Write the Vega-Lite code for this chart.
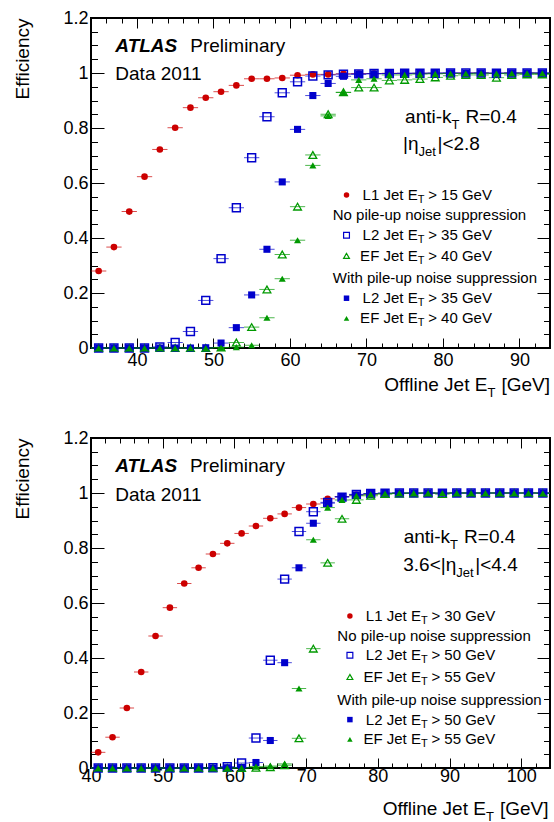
{
"$schema": "https://vega.github.io/schema/vega-lite/v6.json",
"padding": {"left": 12, "top": 8, "right": 5, "bottom": 0},
"background": "white",
"spacing": 27,
"config": {
  "view": {"stroke": "black", "strokeWidth": 2},
  "font": "Liberation Sans",
  "axis": {"grid": false, "domain": false, "tickColor": "black", "tickWidth": 1, "labelColor": "black", "labelFont": "Liberation Sans", "labelFontSize": 18, "titleFont": "Liberation Sans", "titleFontWeight": "normal", "titleColor": "black", "titleFontSize": 19, "labelFlush": false, "labelOverlap": false}
},
"datasets": {
  "top": [
    {"s":"L1","x":35,"y":0.28},{"s":"L1","x":37,"y":0.367},{"s":"L1","x":39,"y":0.496},{"s":"L1","x":41,"y":0.623},{"s":"L1","x":43,"y":0.722},{"s":"L1","x":45,"y":0.801},{"s":"L1","x":47,"y":0.874},{"s":"L1","x":49,"y":0.91},{"s":"L1","x":51,"y":0.932},{"s":"L1","x":53,"y":0.955},{"s":"L1","x":55,"y":0.979},{"s":"L1","x":57,"y":0.979},{"s":"L1","x":59,"y":0.982},{"s":"L1","x":61,"y":0.992},{"s":"L1","x":63,"y":0.995},{"s":"L1","x":65,"y":0.995},{"s":"L1","x":67,"y":0.997},{"s":"L1","x":69,"y":0.998},{"s":"L1","x":71,"y":0.998},{"s":"L1","x":73,"y":0.999},{"s":"L1","x":75,"y":0.998},{"s":"L1","x":77,"y":0.999},{"s":"L1","x":79,"y":0.999},{"s":"L1","x":81,"y":0.999},{"s":"L1","x":83,"y":1},{"s":"L1","x":85,"y":1},{"s":"L1","x":87,"y":0.999},{"s":"L1","x":89,"y":1},{"s":"L1","x":91,"y":1},{"s":"L1","x":93,"y":0.999},
    {"s":"L2n","x":35,"y":0},{"s":"L2n","x":37,"y":0},{"s":"L2n","x":39,"y":0},{"s":"L2n","x":41,"y":0},{"s":"L2n","x":43,"y":0.004},{"s":"L2n","x":45,"y":0.02},{"s":"L2n","x":47,"y":0.06},{"s":"L2n","x":49,"y":0.173},{"s":"L2n","x":51,"y":0.325},{"s":"L2n","x":53,"y":0.51},{"s":"L2n","x":55,"y":0.692},{"s":"L2n","x":57,"y":0.841},{"s":"L2n","x":59,"y":0.928},{"s":"L2n","x":61,"y":0.968},{"s":"L2n","x":63,"y":0.989},{"s":"L2n","x":65,"y":0.993},{"s":"L2n","x":67,"y":0.996},{"s":"L2n","x":69,"y":0.997},{"s":"L2n","x":71,"y":0.998},{"s":"L2n","x":73,"y":0.998},{"s":"L2n","x":75,"y":0.999},{"s":"L2n","x":77,"y":0.999},{"s":"L2n","x":79,"y":0.999},{"s":"L2n","x":81,"y":1},{"s":"L2n","x":83,"y":1},{"s":"L2n","x":85,"y":1},{"s":"L2n","x":87,"y":0.999},{"s":"L2n","x":89,"y":1},{"s":"L2n","x":91,"y":1},{"s":"L2n","x":93,"y":1},
    {"s":"EFn","x":35,"y":0},{"s":"EFn","x":37,"y":0},{"s":"EFn","x":39,"y":0},{"s":"EFn","x":41,"y":0},{"s":"EFn","x":43,"y":0},{"s":"EFn","x":45,"y":0},{"s":"EFn","x":47,"y":0},{"s":"EFn","x":49,"y":0},{"s":"EFn","x":51,"y":0.002},{"s":"EFn","x":53,"y":0.02},{"s":"EFn","x":55,"y":0.076},{"s":"EFn","x":57,"y":0.213},{"s":"EFn","x":59,"y":0.34},{"s":"EFn","x":61,"y":0.514},{"s":"EFn","x":63,"y":0.702},{"s":"EFn","x":65,"y":0.85},{"s":"EFn","x":67,"y":0.93},{"s":"EFn","x":69,"y":0.947},{"s":"EFn","x":71,"y":0.947},{"s":"EFn","x":73,"y":0.973},{"s":"EFn","x":75,"y":0.975},{"s":"EFn","x":77,"y":0.978},{"s":"EFn","x":79,"y":0.984},{"s":"EFn","x":81,"y":0.99},{"s":"EFn","x":83,"y":0.993},{"s":"EFn","x":85,"y":0.993},{"s":"EFn","x":87,"y":0.983},{"s":"EFn","x":89,"y":0.993},{"s":"EFn","x":91,"y":0.995},{"s":"EFn","x":93,"y":0.995},
    {"s":"L2p","x":35,"y":0},{"s":"L2p","x":37,"y":0},{"s":"L2p","x":39,"y":0},{"s":"L2p","x":41,"y":0},{"s":"L2p","x":43,"y":0},{"s":"L2p","x":45,"y":0},{"s":"L2p","x":47,"y":0},{"s":"L2p","x":49,"y":0.001},{"s":"L2p","x":51,"y":0.018},{"s":"L2p","x":53,"y":0.074},{"s":"L2p","x":55,"y":0.193},{"s":"L2p","x":57,"y":0.359},{"s":"L2p","x":59,"y":0.604},{"s":"L2p","x":61,"y":0.795},{"s":"L2p","x":63,"y":0.918},{"s":"L2p","x":65,"y":0.962},{"s":"L2p","x":67,"y":0.988},{"s":"L2p","x":69,"y":0.995},{"s":"L2p","x":71,"y":0.997},{"s":"L2p","x":73,"y":0.998},{"s":"L2p","x":75,"y":0.999},{"s":"L2p","x":77,"y":0.999},{"s":"L2p","x":79,"y":1},{"s":"L2p","x":81,"y":1},{"s":"L2p","x":83,"y":0.999},{"s":"L2p","x":85,"y":1},{"s":"L2p","x":87,"y":1},{"s":"L2p","x":89,"y":1},{"s":"L2p","x":91,"y":1},{"s":"L2p","x":93,"y":1},
    {"s":"EFp","x":35,"y":0},{"s":"EFp","x":37,"y":0},{"s":"EFp","x":39,"y":0},{"s":"EFp","x":41,"y":0},{"s":"EFp","x":43,"y":0},{"s":"EFp","x":45,"y":0},{"s":"EFp","x":47,"y":0},{"s":"EFp","x":49,"y":0},{"s":"EFp","x":51,"y":0.001},{"s":"EFp","x":53,"y":0.003},{"s":"EFp","x":55,"y":0.01},{"s":"EFp","x":57,"y":0.11},{"s":"EFp","x":59,"y":0.252},{"s":"EFp","x":61,"y":0.392},{"s":"EFp","x":63,"y":0.664},{"s":"EFp","x":65,"y":0.844},{"s":"EFp","x":67,"y":0.929},{"s":"EFp","x":69,"y":0.975},{"s":"EFp","x":71,"y":0.979},{"s":"EFp","x":73,"y":0.993},{"s":"EFp","x":75,"y":0.993},{"s":"EFp","x":77,"y":0.996},{"s":"EFp","x":79,"y":0.997},{"s":"EFp","x":81,"y":0.998},{"s":"EFp","x":83,"y":0.998},{"s":"EFp","x":85,"y":0.999},{"s":"EFp","x":87,"y":0.998},{"s":"EFp","x":89,"y":0.999},{"s":"EFp","x":91,"y":0.999},{"s":"EFp","x":93,"y":0.999}
  ],
  "bot": [
    {"s":"L1","x":41,"y":0.057},{"s":"L1","x":43,"y":0.112},{"s":"L1","x":45,"y":0.218},{"s":"L1","x":47,"y":0.349},{"s":"L1","x":49,"y":0.48},{"s":"L1","x":51,"y":0.583},{"s":"L1","x":53,"y":0.671},{"s":"L1","x":55,"y":0.728},{"s":"L1","x":57,"y":0.778},{"s":"L1","x":59,"y":0.817},{"s":"L1","x":61,"y":0.853},{"s":"L1","x":63,"y":0.88},{"s":"L1","x":65,"y":0.908},{"s":"L1","x":67,"y":0.924},{"s":"L1","x":69,"y":0.947},{"s":"L1","x":71,"y":0.96},{"s":"L1","x":73,"y":0.979},{"s":"L1","x":75,"y":0.987},{"s":"L1","x":77,"y":0.993},{"s":"L1","x":79,"y":0.996},{"s":"L1","x":81,"y":0.998},{"s":"L1","x":83,"y":0.999},{"s":"L1","x":85,"y":0.999},{"s":"L1","x":87,"y":0.999},{"s":"L1","x":89,"y":0.999},{"s":"L1","x":91,"y":1},{"s":"L1","x":93,"y":1},{"s":"L1","x":95,"y":1},{"s":"L1","x":97,"y":1},{"s":"L1","x":99,"y":1},{"s":"L1","x":101,"y":1},{"s":"L1","x":103,"y":1},
    {"s":"L2n","x":41,"y":0},{"s":"L2n","x":43,"y":0},{"s":"L2n","x":45,"y":0},{"s":"L2n","x":47,"y":0},{"s":"L2n","x":49,"y":0},{"s":"L2n","x":51,"y":0},{"s":"L2n","x":53,"y":0},{"s":"L2n","x":55,"y":0},{"s":"L2n","x":57,"y":0.001},{"s":"L2n","x":59,"y":0.005},{"s":"L2n","x":61,"y":0.018},{"s":"L2n","x":63,"y":0.109},{"s":"L2n","x":65,"y":0.392},{"s":"L2n","x":67,"y":0.687},{"s":"L2n","x":69,"y":0.86},{"s":"L2n","x":71,"y":0.932},{"s":"L2n","x":73,"y":0.966},{"s":"L2n","x":75,"y":0.985},{"s":"L2n","x":77,"y":0.995},{"s":"L2n","x":79,"y":0.998},{"s":"L2n","x":81,"y":0.999},{"s":"L2n","x":83,"y":1},{"s":"L2n","x":85,"y":1},{"s":"L2n","x":87,"y":1},{"s":"L2n","x":89,"y":0.999},{"s":"L2n","x":91,"y":1},{"s":"L2n","x":93,"y":1},{"s":"L2n","x":95,"y":1},{"s":"L2n","x":97,"y":1},{"s":"L2n","x":99,"y":1},{"s":"L2n","x":101,"y":1},{"s":"L2n","x":103,"y":1},
    {"s":"EFn","x":41,"y":0},{"s":"EFn","x":43,"y":0},{"s":"EFn","x":45,"y":0},{"s":"EFn","x":47,"y":0},{"s":"EFn","x":49,"y":0},{"s":"EFn","x":51,"y":0},{"s":"EFn","x":53,"y":0},{"s":"EFn","x":55,"y":0},{"s":"EFn","x":57,"y":0},{"s":"EFn","x":59,"y":0},{"s":"EFn","x":61,"y":0},{"s":"EFn","x":63,"y":0.001},{"s":"EFn","x":65,"y":0.003},{"s":"EFn","x":67,"y":0.01},{"s":"EFn","x":69,"y":0.108},{"s":"EFn","x":71,"y":0.434},{"s":"EFn","x":73,"y":0.746},{"s":"EFn","x":75,"y":0.906},{"s":"EFn","x":77,"y":0.975},{"s":"EFn","x":79,"y":0.99},{"s":"EFn","x":81,"y":0.996},{"s":"EFn","x":83,"y":0.998},{"s":"EFn","x":85,"y":0.999},{"s":"EFn","x":87,"y":1},{"s":"EFn","x":89,"y":0.996},{"s":"EFn","x":91,"y":1},{"s":"EFn","x":93,"y":1},{"s":"EFn","x":95,"y":1},{"s":"EFn","x":97,"y":1},{"s":"EFn","x":99,"y":1},{"s":"EFn","x":101,"y":1},{"s":"EFn","x":103,"y":1},
    {"s":"L2p","x":41,"y":0},{"s":"L2p","x":43,"y":0},{"s":"L2p","x":45,"y":0},{"s":"L2p","x":47,"y":0},{"s":"L2p","x":49,"y":0},{"s":"L2p","x":51,"y":0},{"s":"L2p","x":53,"y":0},{"s":"L2p","x":55,"y":0},{"s":"L2p","x":57,"y":0},{"s":"L2p","x":59,"y":0.001},{"s":"L2p","x":61,"y":0.002},{"s":"L2p","x":63,"y":0.02},{"s":"L2p","x":65,"y":0.1},{"s":"L2p","x":67,"y":0.383},{"s":"L2p","x":69,"y":0.728},{"s":"L2p","x":71,"y":0.89},{"s":"L2p","x":73,"y":0.963},{"s":"L2p","x":75,"y":0.987},{"s":"L2p","x":77,"y":0.993},{"s":"L2p","x":79,"y":0.998},{"s":"L2p","x":81,"y":1},{"s":"L2p","x":83,"y":1},{"s":"L2p","x":85,"y":1},{"s":"L2p","x":87,"y":1},{"s":"L2p","x":89,"y":1},{"s":"L2p","x":91,"y":1},{"s":"L2p","x":93,"y":1},{"s":"L2p","x":95,"y":1},{"s":"L2p","x":97,"y":1},{"s":"L2p","x":99,"y":1},{"s":"L2p","x":101,"y":1},{"s":"L2p","x":103,"y":1},
    {"s":"EFp","x":41,"y":0},{"s":"EFp","x":43,"y":0},{"s":"EFp","x":45,"y":0},{"s":"EFp","x":47,"y":0},{"s":"EFp","x":49,"y":0},{"s":"EFp","x":51,"y":0},{"s":"EFp","x":53,"y":0},{"s":"EFp","x":55,"y":0},{"s":"EFp","x":57,"y":0},{"s":"EFp","x":59,"y":0},{"s":"EFp","x":61,"y":0.001},{"s":"EFp","x":63,"y":0.005},{"s":"EFp","x":65,"y":0.007},{"s":"EFp","x":67,"y":0.015},{"s":"EFp","x":69,"y":0.289},{"s":"EFp","x":71,"y":0.83},{"s":"EFp","x":73,"y":0.947},{"s":"EFp","x":75,"y":0.975},{"s":"EFp","x":77,"y":0.99},{"s":"EFp","x":79,"y":0.995},{"s":"EFp","x":81,"y":0.998},{"s":"EFp","x":83,"y":1},{"s":"EFp","x":85,"y":1},{"s":"EFp","x":87,"y":1},{"s":"EFp","x":89,"y":1},{"s":"EFp","x":91,"y":1},{"s":"EFp","x":93,"y":1},{"s":"EFp","x":95,"y":1},{"s":"EFp","x":97,"y":1},{"s":"EFp","x":99,"y":1},{"s":"EFp","x":101,"y":1},{"s":"EFp","x":103,"y":0.999}
  ],
  "toptxt": [
    {"k":"atlas","x":37.18,"y":1.077,"t":"ATLAS"},
    {"k":"big","x":46.98,"y":1.077,"t":"Preliminary"},
    {"k":"big","x":37.18,"y":0.973,"t":"Data 2011"},
    {"k":"preR","x":81.13,"y":0.819,"t":"anti-k"},
    {"k":"subT","x":81.13,"y":0.819,"t":"T"},
    {"k":"postT","x":81.13,"y":0.819,"t":"R=0.4"},
    {"k":"preR","x":76.81,"y":0.719,"t":"|η"},
    {"k":"subJet","x":76.81,"y":0.719,"t":"Jet"},
    {"k":"postJet","x":76.81,"y":0.719,"t":"|<2.8"},
    {"k":"preR","x":85.82,"y":-0.156,"t":"Offline Jet E"},
    {"k":"subT","x":85.82,"y":-0.156,"t":"T"},
    {"k":"postT","x":85.82,"y":-0.156,"t":"[GeV]"},
    {"k":"hdr","x":65.6,"y":0.484,"t":"No pile-up noise suppression"},
    {"k":"hdr","x":65.6,"y":0.253,"t":"With pile-up noise suppression"},
    {"k":"lpre","x":76.7,"y":0.556,"t":"L1 Jet E"},{"k":"lsub","x":76.7,"y":0.556,"t":"T"},{"k":"lpost","x":76.7,"y":0.556,"t":"> 15 GeV"},
    {"k":"lpre","x":76.7,"y":0.41,"t":"L2 Jet E"},{"k":"lsub","x":76.7,"y":0.41,"t":"T"},{"k":"lpost","x":76.7,"y":0.41,"t":"> 35 GeV"},
    {"k":"lpre","x":76.7,"y":0.335,"t":"EF Jet E"},{"k":"lsub","x":76.7,"y":0.335,"t":"T"},{"k":"lpost","x":76.7,"y":0.335,"t":"> 40 GeV"},
    {"k":"lpre","x":76.7,"y":0.181,"t":"L2 Jet E"},{"k":"lsub","x":76.7,"y":0.181,"t":"T"},{"k":"lpost","x":76.7,"y":0.181,"t":"> 35 GeV"},
    {"k":"lpre","x":76.7,"y":0.108,"t":"EF Jet E"},{"k":"lsub","x":76.7,"y":0.108,"t":"T"},{"k":"lpost","x":76.7,"y":0.108,"t":"> 40 GeV"}
  ],
  "bottxt": [
    {"k":"atlas","x":43.38,"y":1.076,"t":"ATLAS"},
    {"k":"big","x":53.79,"y":1.076,"t":"Preliminary"},
    {"k":"big","x":43.38,"y":0.971,"t":"Data 2011"},
    {"k":"preR","x":90.07,"y":0.817,"t":"anti-k"},
    {"k":"subT","x":90.07,"y":0.817,"t":"T"},
    {"k":"postT","x":90.07,"y":0.817,"t":"R=0.4"},
    {"k":"preR","x":90.93,"y":0.716,"t":"3.6<|η"},
    {"k":"subJet","x":90.93,"y":0.716,"t":"Jet"},
    {"k":"postJet","x":90.93,"y":0.716,"t":"|<4.4"},
    {"k":"preR","x":95.06,"y":-0.17,"t":"Offline Jet E"},
    {"k":"subT","x":95.06,"y":-0.17,"t":"T"},
    {"k":"postT","x":95.06,"y":-0.17,"t":"[GeV]"},
    {"k":"hdr","x":74.35,"y":0.48,"t":"No pile-up noise suppression"},
    {"k":"hdr","x":74.35,"y":0.249,"t":"With pile-up noise suppression"},
    {"k":"lpre","x":86.0,"y":0.553,"t":"L1 Jet E"},{"k":"lsub","x":86.0,"y":0.553,"t":"T"},{"k":"lpost","x":86.0,"y":0.553,"t":"> 30 GeV"},
    {"k":"lpre","x":86.0,"y":0.41,"t":"L2 Jet E"},{"k":"lsub","x":86.0,"y":0.41,"t":"T"},{"k":"lpost","x":86.0,"y":0.41,"t":"> 50 GeV"},
    {"k":"lpre","x":86.0,"y":0.331,"t":"EF Jet E"},{"k":"lsub","x":86.0,"y":0.331,"t":"T"},{"k":"lpost","x":86.0,"y":0.331,"t":"> 55 GeV"},
    {"k":"lpre","x":86.0,"y":0.176,"t":"L2 Jet E"},{"k":"lsub","x":86.0,"y":0.176,"t":"T"},{"k":"lpost","x":86.0,"y":0.176,"t":"> 50 GeV"},
    {"k":"lpre","x":86.0,"y":0.104,"t":"EF Jet E"},{"k":"lsub","x":86.0,"y":0.104,"t":"T"},{"k":"lpost","x":86.0,"y":0.104,"t":"> 55 GeV"}
  ],
  "topsym": [
    {"s":"L1","x":67.4,"y":0.556},{"s":"L2n","x":67.4,"y":0.41},{"s":"EFn","x":67.4,"y":0.335},{"s":"L2p","x":67.4,"y":0.181},{"s":"EFp","x":67.4,"y":0.108}
  ],
  "botsym": [
    {"s":"L1","x":76.1,"y":0.553},{"s":"L2n","x":76.1,"y":0.41},{"s":"EFn","x":76.1,"y":0.331},{"s":"L2p","x":76.1,"y":0.176},{"s":"EFp","x":76.1,"y":0.104}
  ]
},
"resolve": {"scale": {"x": "independent", "y": "independent"}},
"vconcat": [
  {
    "width": 459, "height": 330,
    "resolve": {"axis": {"x": "independent", "y": "independent"}},
    "encoding": {
      "x": {"field": "x", "type": "quantitative", "scale": {"domain": [34, 94], "nice": false, "zero": false}, "axis": null},
      "y": {"field": "y", "type": "quantitative", "scale": {"domain": [0, 1.2], "nice": false, "zero": false}, "axis": null},
      "color": {"field": "s", "type": "nominal", "scale": {"domain": ["L1","L2n","EFn","L2p","EFp"], "range": ["#cc0000","#0000cc","#009900","#0000cc","#009900"]}, "legend": null},
      "shape": {"field": "s", "type": "nominal", "scale": {"domain": ["L1","L2n","EFn","L2p","EFp"], "range": ["circle","square","triangle-up","square","triangle-up"]}, "legend": null}
    },
    "layer": [
      {"data": {"name": "top"}, "mark": {"type": "tick", "orient": "horizontal", "size": 15.3, "thickness": 1, "opacity": 0.7},
       "encoding": {
         "shape": null,
         "x": {"field": "x", "type": "quantitative", "scale": {"domain": [34, 94], "nice": false, "zero": false},
               "axis": {"orient": "bottom", "values": [40,50,60,70,80,90], "format": "d", "tickSize": -10, "labelPadding": 13, "title": null}},
         "y": {"field": "y", "type": "quantitative", "scale": {"domain": [0, 1.2], "nice": false, "zero": false},
               "axis": {"orient": "left", "values": [0,0.2,0.4,0.6,0.8,1,1.2], "format": "~g", "tickSize": -13, "labelPadding": 16, "title": "Efficiency", "titleAnchor": "end", "titlePadding": 30}}
       }},
      {"data": {"name": "top"}, "transform": [{"filter": "datum.s === 'L1'"}], "mark": {"type": "point", "filled": true, "size": 44, "opacity": 1},
       "encoding": {
         "x": {"field": "x", "type": "quantitative", "scale": {"domain": [34, 94], "nice": false, "zero": false},
               "axis": {"orient": "bottom", "values": [36,38,42,44,46,48,52,54,56,58,62,64,66,68,72,74,76,78,82,84,86,88,92], "tickSize": -5, "labels": false, "title": null}},
         "y": {"field": "y", "type": "quantitative", "scale": {"domain": [0, 1.2], "nice": false, "zero": false},
               "axis": {"orient": "left", "values": [0.05,0.1,0.15,0.25,0.3,0.35,0.45,0.5,0.55,0.65,0.7,0.75,0.85,0.9,0.95,1.05,1.1,1.15], "tickSize": -6.5, "labels": false, "title": null}}
       }},
      {"data": {"name": "top"}, "transform": [{"filter": "datum.s === 'L2n'"}], "mark": {"type": "point", "filled": false, "size": 62, "strokeWidth": 1.5, "opacity": 1},
       "encoding": {
         "x": {"field": "x", "type": "quantitative", "scale": {"domain": [34, 94], "nice": false, "zero": false},
               "axis": {"orient": "top", "values": [40,50,60,70,80,90], "tickSize": -10, "labels": false, "title": null}},
         "y": {"field": "y", "type": "quantitative", "scale": {"domain": [0, 1.2], "nice": false, "zero": false},
               "axis": {"orient": "right", "values": [0,0.2,0.4,0.6,0.8,1,1.2], "tickSize": -13, "labels": false, "title": null}}
       }},
      {"data": {"name": "top"}, "transform": [{"filter": "datum.s === 'EFn'"}], "mark": {"type": "point", "filled": false, "size": 60, "strokeWidth": 1.3, "opacity": 1},
       "encoding": {
         "x": {"field": "x", "type": "quantitative", "scale": {"domain": [34, 94], "nice": false, "zero": false},
               "axis": {"orient": "top", "values": [36,38,42,44,46,48,52,54,56,58,62,64,66,68,72,74,76,78,82,84,86,88,92], "tickSize": -5, "labels": false, "title": null}},
         "y": {"field": "y", "type": "quantitative", "scale": {"domain": [0, 1.2], "nice": false, "zero": false},
               "axis": {"orient": "right", "values": [0.05,0.1,0.15,0.25,0.3,0.35,0.45,0.5,0.55,0.65,0.7,0.75,0.85,0.9,0.95,1.05,1.1,1.15], "tickSize": -6.5, "labels": false, "title": null}}
       }},
      {"data": {"name": "top"}, "transform": [{"filter": "datum.s === 'L2p'"}], "mark": {"type": "point", "filled": true, "size": 50, "opacity": 1}},
      {"data": {"name": "top"}, "transform": [{"filter": "datum.s === 'EFp'"}], "mark": {"type": "point", "filled": true, "size": 50, "opacity": 1}},
      {"data": {"name": "topsym"}, "transform": [{"filter": "datum.s === 'L1' || datum.s === 'L2p' || datum.s === 'EFp'"}], "mark": {"type": "point", "filled": true, "size": 30, "opacity": 1}},
      {"data": {"name": "topsym"}, "transform": [{"filter": "datum.s === 'L2n' || datum.s === 'EFn'"}], "mark": {"type": "point", "filled": false, "size": 34, "strokeWidth": 1.2, "opacity": 1}},
      {"data": {"name": "toptxt"}, "transform": [{"filter": "datum.k === 'atlas'"}], "mark": {"type": "text", "align": "left", "baseline": "alphabetic", "fontSize": 19, "fontWeight": "bold", "fontStyle": "italic", "color": "black"}, "encoding": {"text": {"field": "t"}, "color": null, "shape": null}},
      {"data": {"name": "toptxt"}, "transform": [{"filter": "datum.k === 'big'"}], "mark": {"type": "text", "align": "left", "baseline": "alphabetic", "fontSize": 19, "color": "black"}, "encoding": {"text": {"field": "t"}, "color": null, "shape": null}},
      {"data": {"name": "toptxt"}, "transform": [{"filter": "datum.k === 'preR'"}], "mark": {"type": "text", "align": "right", "baseline": "alphabetic", "fontSize": 19, "color": "black"}, "encoding": {"text": {"field": "t"}, "color": null, "shape": null}},
      {"data": {"name": "toptxt"}, "transform": [{"filter": "datum.k === 'subT'"}], "mark": {"type": "text", "align": "left", "baseline": "alphabetic", "fontSize": 13, "dy": 6, "color": "black"}, "encoding": {"text": {"field": "t"}, "color": null, "shape": null}},
      {"data": {"name": "toptxt"}, "transform": [{"filter": "datum.k === 'postT'"}], "mark": {"type": "text", "align": "left", "baseline": "alphabetic", "fontSize": 19, "dx": 14, "color": "black"}, "encoding": {"text": {"field": "t"}, "color": null, "shape": null}},
      {"data": {"name": "toptxt"}, "transform": [{"filter": "datum.k === 'subJet'"}], "mark": {"type": "text", "align": "left", "baseline": "alphabetic", "fontSize": 13, "dy": 6, "color": "black"}, "encoding": {"text": {"field": "t"}, "color": null, "shape": null}},
      {"data": {"name": "toptxt"}, "transform": [{"filter": "datum.k === 'postJet'"}], "mark": {"type": "text", "align": "left", "baseline": "alphabetic", "fontSize": 19, "dx": 19, "color": "black"}, "encoding": {"text": {"field": "t"}, "color": null, "shape": null}},
      {"data": {"name": "toptxt"}, "transform": [{"filter": "datum.k === 'hdr'"}], "mark": {"type": "text", "align": "left", "baseline": "middle", "fontSize": 15, "color": "black"}, "encoding": {"text": {"field": "t"}, "color": null, "shape": null}},
      {"data": {"name": "toptxt"}, "transform": [{"filter": "datum.k === 'lpre'"}], "mark": {"type": "text", "align": "right", "baseline": "middle", "fontSize": 15, "color": "black"}, "encoding": {"text": {"field": "t"}, "color": null, "shape": null}},
      {"data": {"name": "toptxt"}, "transform": [{"filter": "datum.k === 'lsub'"}], "mark": {"type": "text", "align": "left", "baseline": "middle", "fontSize": 11, "dy": 5, "color": "black"}, "encoding": {"text": {"field": "t"}, "color": null, "shape": null}},
      {"data": {"name": "toptxt"}, "transform": [{"filter": "datum.k === 'lpost'"}], "mark": {"type": "text", "align": "left", "baseline": "middle", "fontSize": 15, "dx": 10.5, "color": "black"}, "encoding": {"text": {"field": "t"}, "color": null, "shape": null}}
    ]
  },
  {
    "width": 459, "height": 330,
    "resolve": {"axis": {"x": "independent", "y": "independent"}},
    "encoding": {
      "x": {"field": "x", "type": "quantitative", "scale": {"domain": [40, 104], "nice": false, "zero": false}, "axis": null},
      "y": {"field": "y", "type": "quantitative", "scale": {"domain": [0, 1.2], "nice": false, "zero": false}, "axis": null},
      "color": {"field": "s", "type": "nominal", "scale": {"domain": ["L1","L2n","EFn","L2p","EFp"], "range": ["#cc0000","#0000cc","#009900","#0000cc","#009900"]}, "legend": null},
      "shape": {"field": "s", "type": "nominal", "scale": {"domain": ["L1","L2n","EFn","L2p","EFp"], "range": ["circle","square","triangle-up","square","triangle-up"]}, "legend": null}
    },
    "layer": [
      {"data": {"name": "bot"}, "mark": {"type": "tick", "orient": "horizontal", "size": 14.4, "thickness": 1, "opacity": 0.7},
       "encoding": {
         "shape": null,
         "x": {"field": "x", "type": "quantitative", "scale": {"domain": [40, 104], "nice": false, "zero": false},
               "axis": {"orient": "bottom", "values": [40,50,60,70,80,90,100], "format": "d", "tickSize": -10, "labelPadding": 9, "title": null}},
         "y": {"field": "y", "type": "quantitative", "scale": {"domain": [0, 1.2], "nice": false, "zero": false},
               "axis": {"orient": "left", "values": [0,0.2,0.4,0.6,0.8,1,1.2], "format": "~g", "tickSize": -13, "labelPadding": 16, "title": "Efficiency", "titleAnchor": "end", "titlePadding": 30}}
       }},
      {"data": {"name": "bot"}, "transform": [{"filter": "datum.s === 'L1'"}], "mark": {"type": "point", "filled": true, "size": 44, "opacity": 1},
       "encoding": {
         "x": {"field": "x", "type": "quantitative", "scale": {"domain": [40, 104], "nice": false, "zero": false},
               "axis": {"orient": "bottom", "values": [42,44,46,48,52,54,56,58,62,64,66,68,72,74,76,78,82,84,86,88,92,94,96,98,102], "tickSize": -5, "labels": false, "title": null}},
         "y": {"field": "y", "type": "quantitative", "scale": {"domain": [0, 1.2], "nice": false, "zero": false},
               "axis": {"orient": "left", "values": [0.05,0.1,0.15,0.25,0.3,0.35,0.45,0.5,0.55,0.65,0.7,0.75,0.85,0.9,0.95,1.05,1.1,1.15], "tickSize": -6.5, "labels": false, "title": null}}
       }},
      {"data": {"name": "bot"}, "transform": [{"filter": "datum.s === 'L2n'"}], "mark": {"type": "point", "filled": false, "size": 62, "strokeWidth": 1.5, "opacity": 1},
       "encoding": {
         "x": {"field": "x", "type": "quantitative", "scale": {"domain": [40, 104], "nice": false, "zero": false},
               "axis": {"orient": "top", "values": [40,50,60,70,80,90,100], "tickSize": -10, "labels": false, "title": null}},
         "y": {"field": "y", "type": "quantitative", "scale": {"domain": [0, 1.2], "nice": false, "zero": false},
               "axis": {"orient": "right", "values": [0,0.2,0.4,0.6,0.8,1,1.2], "tickSize": -13, "labels": false, "title": null}}
       }},
      {"data": {"name": "bot"}, "transform": [{"filter": "datum.s === 'EFn'"}], "mark": {"type": "point", "filled": false, "size": 60, "strokeWidth": 1.3, "opacity": 1},
       "encoding": {
         "x": {"field": "x", "type": "quantitative", "scale": {"domain": [40, 104], "nice": false, "zero": false},
               "axis": {"orient": "top", "values": [42,44,46,48,52,54,56,58,62,64,66,68,72,74,76,78,82,84,86,88,92,94,96,98,102], "tickSize": -5, "labels": false, "title": null}},
         "y": {"field": "y", "type": "quantitative", "scale": {"domain": [0, 1.2], "nice": false, "zero": false},
               "axis": {"orient": "right", "values": [0.05,0.1,0.15,0.25,0.3,0.35,0.45,0.5,0.55,0.65,0.7,0.75,0.85,0.9,0.95,1.05,1.1,1.15], "tickSize": -6.5, "labels": false, "title": null}}
       }},
      {"data": {"name": "bot"}, "transform": [{"filter": "datum.s === 'L2p'"}], "mark": {"type": "point", "filled": true, "size": 50, "opacity": 1}},
      {"data": {"name": "bot"}, "transform": [{"filter": "datum.s === 'EFp'"}], "mark": {"type": "point", "filled": true, "size": 50, "opacity": 1}},
      {"data": {"name": "botsym"}, "transform": [{"filter": "datum.s === 'L1' || datum.s === 'L2p' || datum.s === 'EFp'"}], "mark": {"type": "point", "filled": true, "size": 30, "opacity": 1}},
      {"data": {"name": "botsym"}, "transform": [{"filter": "datum.s === 'L2n' || datum.s === 'EFn'"}], "mark": {"type": "point", "filled": false, "size": 34, "strokeWidth": 1.2, "opacity": 1}},
      {"data": {"name": "bottxt"}, "transform": [{"filter": "datum.k === 'atlas'"}], "mark": {"type": "text", "align": "left", "baseline": "alphabetic", "fontSize": 19, "fontWeight": "bold", "fontStyle": "italic", "color": "black"}, "encoding": {"text": {"field": "t"}, "color": null, "shape": null}},
      {"data": {"name": "bottxt"}, "transform": [{"filter": "datum.k === 'big'"}], "mark": {"type": "text", "align": "left", "baseline": "alphabetic", "fontSize": 19, "color": "black"}, "encoding": {"text": {"field": "t"}, "color": null, "shape": null}},
      {"data": {"name": "bottxt"}, "transform": [{"filter": "datum.k === 'preR'"}], "mark": {"type": "text", "align": "right", "baseline": "alphabetic", "fontSize": 19, "color": "black"}, "encoding": {"text": {"field": "t"}, "color": null, "shape": null}},
      {"data": {"name": "bottxt"}, "transform": [{"filter": "datum.k === 'subT'"}], "mark": {"type": "text", "align": "left", "baseline": "alphabetic", "fontSize": 13, "dy": 6, "color": "black"}, "encoding": {"text": {"field": "t"}, "color": null, "shape": null}},
      {"data": {"name": "bottxt"}, "transform": [{"filter": "datum.k === 'postT'"}], "mark": {"type": "text", "align": "left", "baseline": "alphabetic", "fontSize": 19, "dx": 14, "color": "black"}, "encoding": {"text": {"field": "t"}, "color": null, "shape": null}},
      {"data": {"name": "bottxt"}, "transform": [{"filter": "datum.k === 'subJet'"}], "mark": {"type": "text", "align": "left", "baseline": "alphabetic", "fontSize": 13, "dy": 6, "color": "black"}, "encoding": {"text": {"field": "t"}, "color": null, "shape": null}},
      {"data": {"name": "bottxt"}, "transform": [{"filter": "datum.k === 'postJet'"}], "mark": {"type": "text", "align": "left", "baseline": "alphabetic", "fontSize": 19, "dx": 19, "color": "black"}, "encoding": {"text": {"field": "t"}, "color": null, "shape": null}},
      {"data": {"name": "bottxt"}, "transform": [{"filter": "datum.k === 'hdr'"}], "mark": {"type": "text", "align": "left", "baseline": "middle", "fontSize": 15, "color": "black"}, "encoding": {"text": {"field": "t"}, "color": null, "shape": null}},
      {"data": {"name": "bottxt"}, "transform": [{"filter": "datum.k === 'lpre'"}], "mark": {"type": "text", "align": "right", "baseline": "middle", "fontSize": 15, "color": "black"}, "encoding": {"text": {"field": "t"}, "color": null, "shape": null}},
      {"data": {"name": "bottxt"}, "transform": [{"filter": "datum.k === 'lsub'"}], "mark": {"type": "text", "align": "left", "baseline": "middle", "fontSize": 11, "dy": 5, "color": "black"}, "encoding": {"text": {"field": "t"}, "color": null, "shape": null}},
      {"data": {"name": "bottxt"}, "transform": [{"filter": "datum.k === 'lpost'"}], "mark": {"type": "text", "align": "left", "baseline": "middle", "fontSize": 15, "dx": 10.5, "color": "black"}, "encoding": {"text": {"field": "t"}, "color": null, "shape": null}}
    ]
  }
]
}
